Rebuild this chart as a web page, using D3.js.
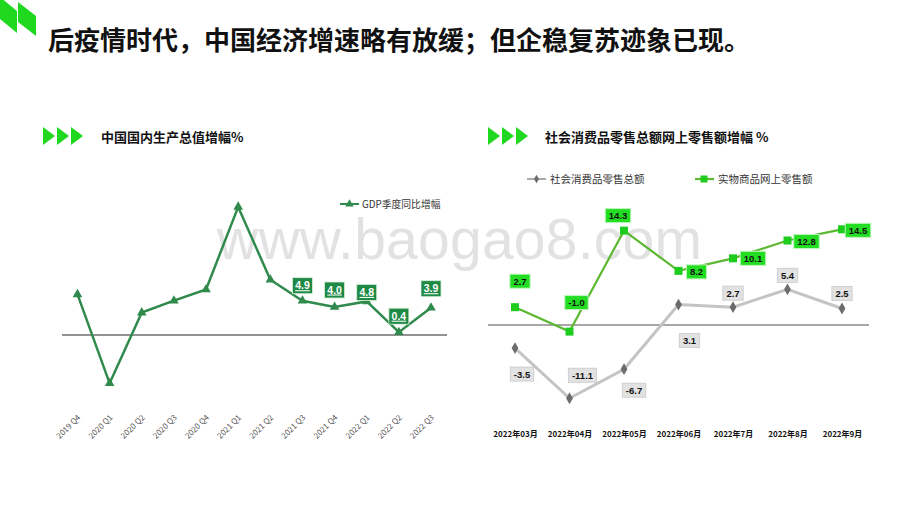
<!DOCTYPE html>
<html><head><meta charset="utf-8">
<script src="https://cdn.jsdelivr.net/npm/d3@7/dist/d3.min.js"></script>
<style>body{margin:0;background:#fff}svg{display:block}</style>
</head><body>
<svg id="c" width="920" height="518"></svg>
<script>
// ---------- data ----------
const titleText = "后疫情时代，中国经济增速略有放缓；但企稳复苏迹象已现。";
const gdpTitle = "中国国内生产总值增幅%";
const gdpSeriesName = "GDP季度同比增幅";
const gdpQuarters = ["2019 Q4","2020 Q1","2020 Q2","2020 Q3","2020 Q4","2021 Q1","2021 Q2","2021 Q3","2021 Q4","2022 Q1","2022 Q2","2022 Q3"];
const gdpValues = [5.8,-6.9,3.2,4.9,6.5,18.3,7.9,4.9,4.0,4.8,0.4,3.9];
const gdpLabelFrom = "2021 Q3";

const retailTitle = "社会消费品零售总额网上零售额增幅 %";
const retailSeriesNames = ["社会消费品零售总额","实物商品网上零售额"];
const retailMonths = ["2022年03月","2022年04月","2022年05月","2022年06月","2022年7月","2022年8月","2022年9月"];
const retailTotal = [-3.5,-11.1,-6.7,3.1,2.7,5.4,2.5];
const onlineGoods = [2.7,-1.0,14.3,8.2,10.1,12.8,14.5];

// label placement offsets (layout only)
const gdpLabelDy = [-15,-17,-9,-16,-19];
const totalLabelOff = [[7,26],[13,-23],[10,21],[11,36],[0,-14],[0,-14],[0,-15]];
const onlineLabelOff = [[5,-26],[7,-29],[-6,-15],[18,1],[20,0],[19,1],[16,1]];

const watermark = "www.baogao8.com";

// ---------- drawing ----------
const svg = d3.select("#c");
const CJK = "'Noto Sans CJK SC','Noto Sans',sans-serif";
const LAT = "'Liberation Sans',Arial,sans-serif";

// top-left icon
const icon = svg.append("g").attr("fill","#1fd81f");
icon.append("polygon").attr("points","0,-3 17,11 17,33 0,19");
icon.append("polygon").attr("points","18,2 36,16 36,36 18,22");

svg.append("text").attr("x",48).attr("y",50)
  .attr("font-family",CJK).attr("font-weight","bold").attr("font-size",26)
  .attr("fill","#111").text(titleText);

function chevrons(x0){
  const g = svg.append("g").attr("fill","#1fd81f");
  [0,14,28].forEach(d=>g.append("polygon").attr("points",`${x0+d},127 ${x0+d+12},136 ${x0+d},145`));
}
chevrons(43); chevrons(488);
svg.append("text").attr("x",101).attr("y",142).attr("font-family",CJK).attr("font-weight","bold")
  .attr("font-size",13).attr("fill","#111").text(gdpTitle);
svg.append("text").attr("x",545).attr("y",142).attr("font-family",CJK).attr("font-weight","bold")
  .attr("font-size",13).attr("fill","#111").text(retailTitle);

// watermark
svg.append("text").attr("x",217).attr("y",259).attr("font-family",LAT).attr("font-size",57)
  .attr("fill","#e2e2e2").attr("textLength",485).text(watermark);

// ---------- GDP chart ----------
const xg = d3.scalePoint().domain(gdpQuarters).range([77.5,431]);
const yg = d3.scaleLinear().domain([-10,20]).range([405,195]);
const gdpColor = "#2f8a4c";

svg.append("line").attr("x1",62).attr("x2",447).attr("y1",yg(0)).attr("y2",yg(0))
  .attr("stroke","#6e6e6e").attr("stroke-width",1.5);

const gx = svg.append("g").attr("transform",`translate(0,418)`)
  .call(d3.axisBottom(xg).tickSize(0).tickPadding(0));
gx.select(".domain").remove();
gx.selectAll("text").attr("font-family",CJK).attr("font-size",8).attr("fill","#555")
  .attr("text-anchor","end").attr("dx",0).attr("dy",0).attr("y",0)
  .attr("transform","translate(3,0) rotate(-45)");

const gdpData = gdpQuarters.map((q,i)=>({q,v:gdpValues[i]}));
svg.append("path").datum(gdpData)
  .attr("d",d3.line().x(d=>xg(d.q)).y(d=>yg(d.v)))
  .attr("fill","none").attr("stroke",gdpColor).attr("stroke-width",2.5);
const tri = d3.symbol().type(d3.symbolTriangle).size(40);
svg.selectAll(".gm").data(gdpData).enter().append("path")
  .attr("d",tri).attr("fill",gdpColor)
  .attr("transform",d=>`translate(${xg(d.q)},${yg(d.v)})`);

const startIdx = gdpQuarters.indexOf(gdpLabelFrom);
const gl = svg.selectAll(".gl").data(gdpData.slice(startIdx)).enter().append("g")
  .attr("transform",(d,i)=>`translate(${xg(d.q)},${yg(d.v)+gdpLabelDy[i]})`);
gl.append("rect").attr("x",-10).attr("y",-8).attr("width",20).attr("height",16)
  .attr("fill","#1f8a46").attr("stroke","#d8f0d8").attr("stroke-width",0.8);
gl.append("text").attr("text-anchor","middle").attr("y",3.5).attr("font-family",LAT)
  .attr("font-weight","bold").attr("font-size",10.5).attr("fill","#fff")
  .attr("text-decoration","underline").text(d=>d.v.toFixed(1));

// GDP legend
svg.append("line").attr("x1",340).attr("x2",359).attr("y1",204).attr("y2",204)
  .attr("stroke",gdpColor).attr("stroke-width",2);
svg.append("path").attr("d",d3.symbol().type(d3.symbolTriangle).size(30))
  .attr("fill",gdpColor).attr("transform","translate(349.5,204)");
svg.append("text").attr("x",362).attr("y",208).attr("font-family",CJK).attr("font-size",9.8)
  .attr("fill","#333").text(gdpSeriesName);

// ---------- retail chart ----------
const xr = d3.scalePoint().domain(retailMonths).range([515,842]);
const yr = d3.scaleLinear().domain([-15,20]).range([424,193]);
const grayLine = "#c4c4c4", grayMark = "#6c6c6c";
const greenLine = "#5cb830", greenMark = "#1ecc1e";

svg.append("line").attr("x1",488).attr("x2",869).attr("y1",yr(0)).attr("y2",yr(0))
  .attr("stroke","#8a8a8a").attr("stroke-width",1.3);

const rx = svg.append("g").attr("transform","translate(0,430)")
  .call(d3.axisBottom(xr).tickSize(0).tickPadding(0));
rx.select(".domain").remove();
rx.selectAll("text").attr("font-family",CJK).attr("font-weight","bold").attr("font-size",8)
  .attr("fill","#111").attr("dy","0.35em").attr("y",4);

const totData = retailMonths.map((m,i)=>({m,v:retailTotal[i]}));
const onData = retailMonths.map((m,i)=>({m,v:onlineGoods[i]}));
const lr = d3.line().x(d=>xr(d.m)).y(d=>yr(d.v));

svg.append("path").datum(totData).attr("d",lr).attr("fill","none")
  .attr("stroke",grayLine).attr("stroke-width",3);
svg.append("path").datum(onData).attr("d",lr).attr("fill","none")
  .attr("stroke",greenLine).attr("stroke-width",2.2);

const diamond = d3.symbol().type(d3.symbolDiamond).size(40);
svg.selectAll(".tm").data(totData).enter().append("path").attr("d",diamond)
  .attr("fill",grayMark).attr("transform",d=>`translate(${xr(d.m)},${yr(d.v)})`);
svg.selectAll(".om").data(onData).enter().append("rect")
  .attr("x",d=>xr(d.m)-4).attr("y",d=>yr(d.v)-4).attr("width",8).attr("height",8)
  .attr("fill",greenMark);

function labels(data, off, fill, glow){
  const g = svg.selectAll(null).data(data).enter().append("g")
    .attr("transform",(d,i)=>`translate(${xr(d.m)+off[i][0]},${yr(d.v)+off[i][1]})`);
  const t = g.append("text").attr("text-anchor","middle").attr("y",3.4).attr("font-family",LAT)
    .attr("font-weight","bold").attr("font-size",9.5).attr("fill","#111").text(d=>d.v.toFixed(1));
  g.each(function(){
    const gg = d3.select(this);
    const w = gg.select("text").node().getComputedTextLength()+7;
    gg.insert("rect","text").attr("x",-w/2).attr("y",-7).attr("width",w).attr("height",14)
      .attr("fill",fill).attr("stroke",glow).attr("stroke-width",1);
  });
}
labels(totData,totalLabelOff,"#e2e2e2","#cfcfcf");
labels(onData,onlineLabelOff,"#22dd22","#bdf5bd");

// retail legend
svg.append("line").attr("x1",527).attr("x2",546).attr("y1",179).attr("y2",179)
  .attr("stroke","#aaa").attr("stroke-width",2);
svg.append("path").attr("d",d3.symbol().type(d3.symbolDiamond).size(22)).attr("fill",grayMark)
  .attr("transform","translate(536.5,179)");
svg.append("text").attr("x",550).attr("y",183).attr("font-family",CJK).attr("font-size",10.5)
  .attr("fill","#333").text(retailSeriesNames[0]);
svg.append("line").attr("x1",695).attr("x2",714).attr("y1",179).attr("y2",179)
  .attr("stroke",greenLine).attr("stroke-width",2.2);
svg.append("rect").attr("x",700.5).attr("y",175.5).attr("width",7).attr("height",7).attr("fill",greenMark);
svg.append("text").attr("x",718).attr("y",183).attr("font-family",CJK).attr("font-size",10.5)
  .attr("fill","#333").text(retailSeriesNames[1]);
</script>
</body></html>
